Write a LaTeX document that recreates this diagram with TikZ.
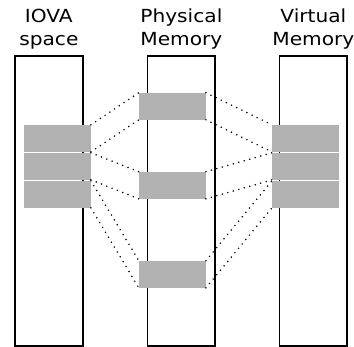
\documentclass[tikz,border=0pt]{standalone}
\usepackage{fontspec}
\newfontfamily\labfont[FakeStretch=1.12]{DejaVu Sans}
\begin{document}
\begin{tikzpicture}[x=1pt,y=-1pt,
  column/.style={draw=black,line width=1.8pt,fill=white,minimum width=67.7pt,minimum height=290.3pt,inner sep=0pt},
  page/.style={fill=black!30,draw=none,minimum width=66.7pt,minimum height=26.7pt,inner sep=0pt},
  mapline/.style={line width=1.7pt,line cap=round,dash pattern=on 0pt off 5.7pt},
  label/.style={font=\labfont\fontsize{18}{23}\selectfont,align=center,anchor=base,inner sep=0pt}]
\useasboundingbox (0,0) rectangle (354,347);
% columns
\node[column] (colL) at (48.85,200.85) {};
\node[column] (colM) at (181.35,200.85) {};
\node[column] (colR) at (313.35,200.85) {};
% labels
\node[label] (labL) at (48.85,45.7) {IOVA\\space};
\node[label] (labM) at (181.35,45.7) {Physical\\Memory};
\node[label] (labR) at (313.35,45.7) {Virtual\\Memory};
% pages
\node[page] (l1) at (57.35,138.35) {};
\node[page] (l2) at (57.35,166.35) {};
\node[page] (l3) at (57.35,194.35) {};
\node[page] (m1) at (172.35,106.25) {};
\node[page] (m2) at (172.35,185.3) {};
\node[page] (m3) at (172.35,274.3) {};
\node[page] (r1) at (305.5,138.35) {};
\node[page] (r2) at (305.5,166.35) {};
\node[page] (r3) at (305.5,194.35) {};
% mappings
\foreach \i in {1,2,3}{
  \draw[mapline] (l\i.north east) -- (m\i.north west);
  \draw[mapline] (l\i.south east) -- (m\i.south west);
  \draw[mapline] (m\i.north east) -- (r\i.north west);
  \draw[mapline] (m\i.south east) -- (r\i.south west);
}
\end{tikzpicture}
\end{document}
